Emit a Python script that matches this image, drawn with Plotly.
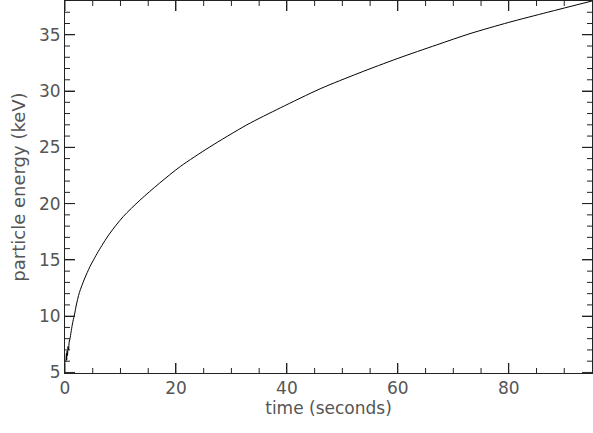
import plotly.graph_objects as go

# time (seconds) and particle energy (keV)
time_s = [0.15, 0.25, 0.3, 0.38, 0.45, 0.55, 0.65, 0.75, 0.9, 1.1, 1.3, 1.5, 1.7,
          2.0, 2.6, 3.5, 4.5, 5.2, 6.0, 8.0, 10.5, 13.5, 17.0, 20.8, 26.0, 32.8,
          38.8, 46.0, 53.0, 60.0, 67.0, 73.0, 80.0, 87.0, 95.0]
energy_kev = [5.9, 6.7, 6.1, 6.9, 6.5, 7.3, 7.0, 7.7, 8.0, 8.6, 9.2, 9.7, 10.1,
              10.9, 12.1, 13.3, 14.4, 15.05, 15.75, 17.3, 18.85, 20.3, 21.8, 23.3, 25.0, 27.0,
              28.5, 30.2, 31.6, 32.9, 34.1, 35.1, 36.1, 37.0, 38.0]

x_ticks = [0, 20, 40, 60, 80]
x_minor = [5, 10, 15, 25, 30, 35, 45, 50, 55, 65, 70, 75, 85, 90]
y_ticks = [5, 10, 15, 20, 25, 30, 35]
y_minor = [6, 7, 8, 9, 11, 12, 13, 14, 16, 17, 18, 19, 21, 22, 23, 24,
           26, 27, 28, 29, 31, 32, 33, 34, 36, 37]

FONT = "DejaVu Sans"
TXT = "#555555"
AX = "#222222"
W, H = 593, 433
ML, MR, MT, MB = 65, 1, 1, 60
PW, PH = W - ML - MR, H - MT - MB

fig = go.Figure()
fig.add_trace(go.Scatter(x=time_s, y=energy_kev, mode="lines",
                         line=dict(color="black", width=1, shape="spline", smoothing=0.8),
                         showlegend=False))

axis_common = dict(
    showgrid=False, zeroline=False, showline=True, linecolor=AX, linewidth=1,
    mirror="allticks", ticks="inside", ticklen=10, tickwidth=1, tickcolor=AX,
    tickfont=dict(family=FONT, size=17, color=TXT),
)

fig.update_xaxes(range=[0, 95], tickvals=x_ticks, ticktext=[str(v) for v in x_ticks],
                 title=dict(text="time (seconds)", font=dict(family=FONT, size=17, color=TXT),
                            standoff=4),
                 **axis_common)
fig.update_yaxes(range=[4.95, 38.0], tickvals=y_ticks, ticktext=[str(v) for v in y_ticks],
                 title=dict(text="particle energy (keV)", font=dict(family=FONT, size=18, color=TXT),
                            standoff=8),
                 **axis_common)

# IDL-style inside tick marks on all four sides (positions from the tick arrays)
shapes = []
for vals, length in ((x_ticks, 10), (x_minor, 5)):
    f = length / PH
    for v in vals:
        shapes.append(dict(type="line", xref="x", yref="paper", x0=v, x1=v, y0=0, y1=f,
                           line=dict(color=AX, width=1), layer="above"))
        shapes.append(dict(type="line", xref="x", yref="paper", x0=v, x1=v, y0=1, y1=1 - f,
                           line=dict(color=AX, width=1), layer="above"))
for vals, length in ((y_ticks, 10), (y_minor, 5)):
    f = length / PW
    for v in vals:
        shapes.append(dict(type="line", xref="paper", yref="y", x0=0, x1=f, y0=v, y1=v,
                           line=dict(color=AX, width=1), layer="above"))
        shapes.append(dict(type="line", xref="paper", yref="y", x0=1, x1=1 - f, y0=v, y1=v,
                           line=dict(color=AX, width=1), layer="above"))

fig.update_layout(width=W, height=H, margin=dict(l=ML, r=MR, t=MT, b=MB),
                  plot_bgcolor="white", paper_bgcolor="white", shapes=shapes)

fig.write_html("out.html", config={"displayModeBar": False})
with open("out.html", encoding="utf-8") as f:
    html = f.read()
html = html.replace("<head>", "<head><style>html,body{margin:0;padding:0;overflow:hidden}</style>", 1)
with open("out.html", "w", encoding="utf-8") as f:
    f.write(html)
